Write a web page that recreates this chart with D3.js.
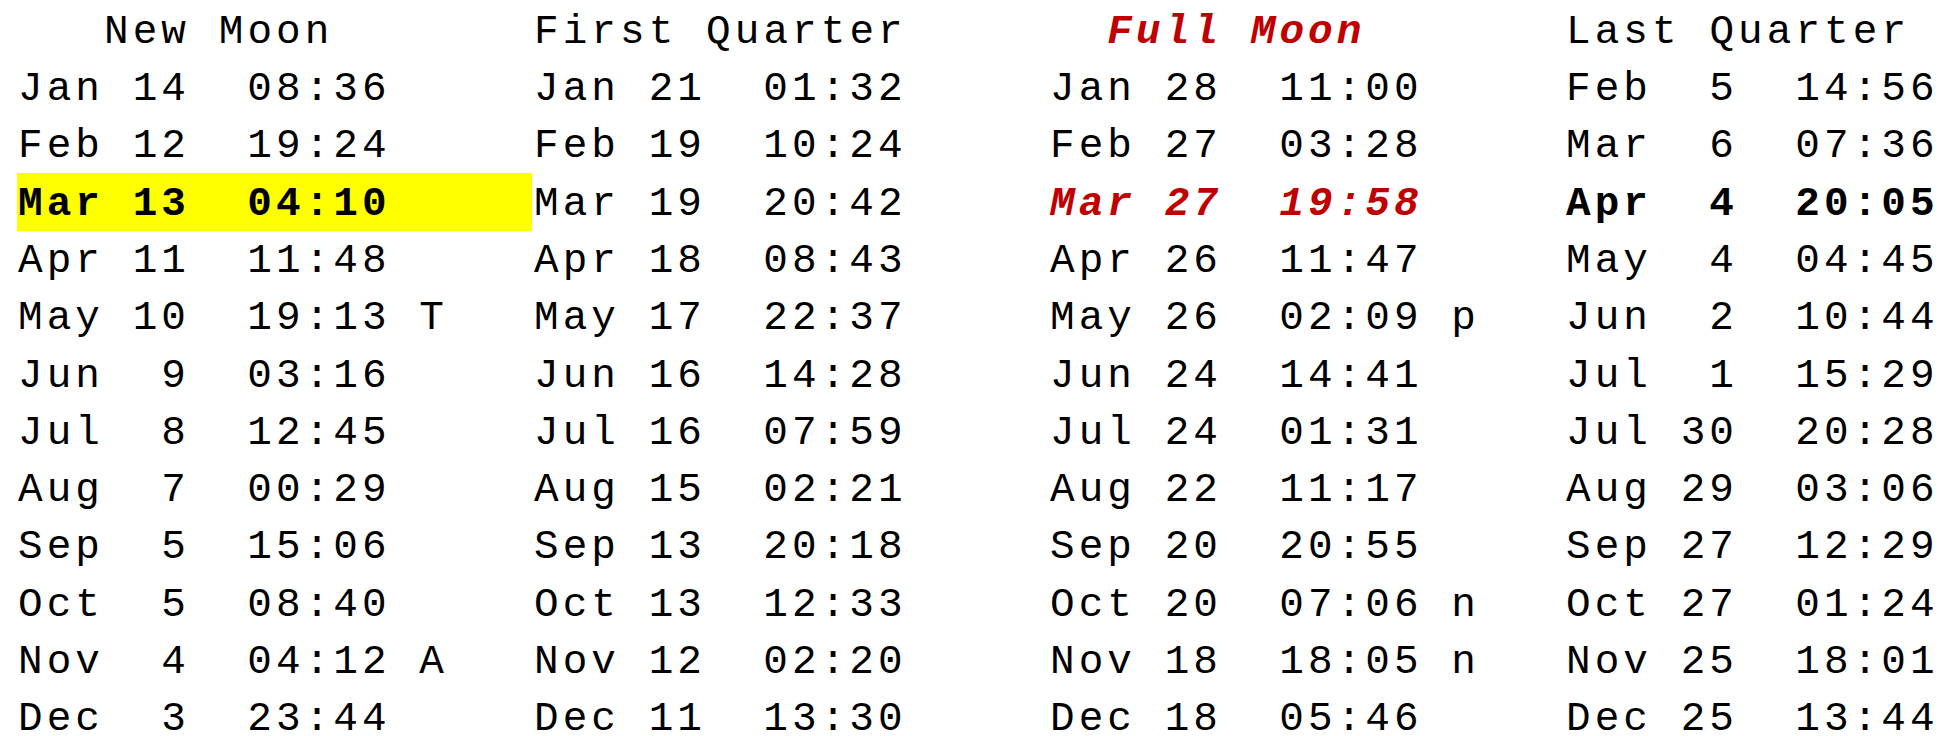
<!DOCTYPE html>
<html>
<head>
<meta charset="utf-8">
<script src="https://cdn.jsdelivr.net/npm/d3@7"></script>
<style>
  html, body { margin: 0; padding: 0; background: #fff; overflow: hidden; }
  text { font-family: "Courier New", "Liberation Mono", monospace; white-space: pre; }
</style>
</head>
<body>
<div id="chart"></div>
<script>
/* DATA */
const phases = ["New Moon", "First Quarter", "Full Moon", "Last Quarter"];

// [month, day, time, flag]
const newMoon = [
  ["Jan", 14, "08:36", ""], ["Feb", 12, "19:24", ""], ["Mar", 13, "04:10", ""],
  ["Apr", 11, "11:48", ""], ["May", 10, "19:13", "T"], ["Jun", 9, "03:16", ""],
  ["Jul", 8, "12:45", ""], ["Aug", 7, "00:29", ""], ["Sep", 5, "15:06", ""],
  ["Oct", 5, "08:40", ""], ["Nov", 4, "04:12", "A"], ["Dec", 3, "23:44", ""]
];
const firstQuarter = [
  ["Jan", 21, "01:32", ""], ["Feb", 19, "10:24", ""], ["Mar", 19, "20:42", ""],
  ["Apr", 18, "08:43", ""], ["May", 17, "22:37", ""], ["Jun", 16, "14:28", ""],
  ["Jul", 16, "07:59", ""], ["Aug", 15, "02:21", ""], ["Sep", 13, "20:18", ""],
  ["Oct", 13, "12:33", ""], ["Nov", 12, "02:20", ""], ["Dec", 11, "13:30", ""]
];
const fullMoon = [
  ["Jan", 28, "11:00", ""], ["Feb", 27, "03:28", ""], ["Mar", 27, "19:58", ""],
  ["Apr", 26, "11:47", ""], ["May", 26, "02:09", "p"], ["Jun", 24, "14:41", ""],
  ["Jul", 24, "01:31", ""], ["Aug", 22, "11:17", ""], ["Sep", 20, "20:55", ""],
  ["Oct", 20, "07:06", "n"], ["Nov", 18, "18:05", "n"], ["Dec", 18, "05:46", ""]
];
const lastQuarter = [
  ["Feb", 5, "14:56", ""], ["Mar", 6, "07:36", ""], ["Apr", 4, "20:05", ""],
  ["May", 4, "04:45", ""], ["Jun", 2, "10:44", ""], ["Jul", 1, "15:29", ""],
  ["Jul", 30, "20:28", ""], ["Aug", 29, "03:06", ""], ["Sep", 27, "12:29", ""],
  ["Oct", 27, "01:24", ""], ["Nov", 25, "18:01", ""], ["Dec", 25, "13:44", ""]
];

// which row of each column is marked (index into the arrays above)
const marked = { "New Moon": 2, "Full Moon": 2, "Last Quarter": 2 };

/* LAYOUT */
const width = 1942,
  height = 736,
  colWidth = 516,
  charW = colWidth / 18,
  fontSize = 41,
  spacing = charW - 0.6 * fontSize, // keep the 18-char grid with smaller glyphs
  red = "#c00000";

const headerIndent = { "New Moon": 3, "First Quarter": 0, "Full Moon": 2, "Last Quarter": 0 };

const columns = [newMoon, firstQuarter, fullMoon, lastQuarter];

const xCol = d3.scaleBand()
  .domain(phases)
  .range([16, 16 + colWidth * phases.length]);

// character index -> x offset within a column
const xChar = d3.scaleLinear().domain([0, 18]).range([spacing / 2, colWidth + spacing / 2]);

// line index (0 = header) -> baseline
const y = d3.scaleLinear().domain([0, 12]).range([42.7, 42.7 + 12 * 57.3]);

const svg = d3.select("#chart")
  .append("svg")
  .attr("width", width)
  .attr("height", height);

// highlight behind New Moon row
svg.append("rect")
  .attr("x", xCol("New Moon") + 1)
  .attr("y", y(marked["New Moon"] + 1) - 41.6)
  .attr("width", colWidth - 1)
  .attr("height", 58.3)
  .attr("fill", "#ffff00");

phases.forEach((phase, c) => {
  const g = svg.append("g")
    .attr("transform", `translate(${xCol(phase)},0)`)
    .style("font-size", fontSize + "px")
    .style("letter-spacing", spacing + "px");

  const isFull = phase === "Full Moon";

  g.append("text")
    .attr("x", xChar(headerIndent[phase]))
    .attr("y", y(0))
    .attr("fill", isFull ? red : "#000")
    .attr("font-weight", isFull ? "bold" : null)
    .attr("font-style", isFull ? "italic" : null)
    .text(phase);

  const rows = g.selectAll("g.row")
    .data(columns[c])
    .join("g")
    .attr("class", "row")
    .attr("transform", (d, i) => `translate(0,${y(i + 1)})`)
    .attr("fill", (d, i) => (isFull && marked[phase] === i) ? red : "#000")
    .attr("font-weight", (d, i) => marked[phase] === i ? "bold" : null)
    .attr("font-style", (d, i) => (isFull && marked[phase] === i) ? "italic" : null);

  rows.append("text").attr("x", xChar(0)).text(d => d[0]);
  rows.append("text").attr("x", d => xChar(String(d[1]).length === 1 ? 5 : 4)).text(d => d[1]);
  rows.append("text").attr("x", xChar(8)).text(d => d[2]);
  rows.append("text").attr("x", xChar(14)).text(d => d[3]);
});
</script>
</body>
</html>
